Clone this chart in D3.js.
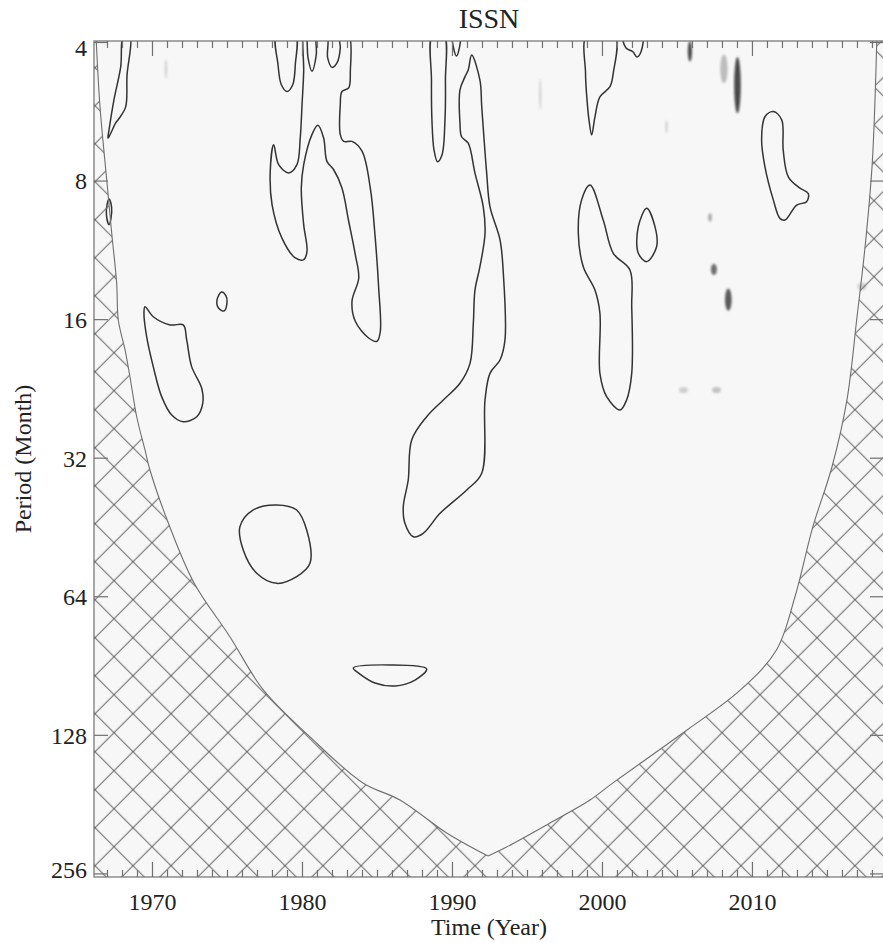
<!DOCTYPE html>
<html>
<head>
<meta charset="utf-8">
<script src="https://cdn.jsdelivr.net/npm/d3@7"></script>
<style>
    body { margin: 0; background: #fff; }
    text { font-family: "Liberation Serif", "Times New Roman", serif; fill: #222; }
</style>
</head>
<body>
<svg id="chart" width="883" height="943"></svg>
<script>
// axis ranges and labels
const title = 'ISSN';
const xLabel = 'Time (Year)';
const yLabel = 'Period (Month)';
const xDomain = [1966.1, 2018.77];
const yDomain = [3.97, 260];
const xTicks = [1970, 1980, 1990, 2000, 2010];
const yTicks = [4, 8, 16, 32, 64, 128, 256];

// cone of influence, [year, period]
const coiLeft = [
    [1966.23, 3.85], [1966.5, 5.52], [1966.95, 7.96], [1967.28, 10.37], [1967.61, 13.32],
    [1967.72, 16.03], [1968.17, 18.62], [1968.5, 21.32], [1968.95, 26.04], [1969.5, 30.71],
    [1969.83, 33.94], [1971.03, 44.03], [1972.77, 59.73], [1975.17, 78.26], [1977.39, 102.0],
    [1980.5, 129.0], [1984.03, 162.4], [1986.5, 176.9], [1989.61, 208.6], [1992.37, 234.1]
];
const coiRight = [
    [1993.61, 223.8], [1996.5, 198.5], [1999.17, 176.9], [2000.7, 162.4], [2005.17, 127.8],
    [2009.2, 102.0], [2011.6, 83.5], [2012.83, 64.07], [2014.03, 45.07], [2015.3, 33.44],
    [2016.3, 23.91], [2016.97, 15.79], [2017.5, 11.18], [2017.97, 7.46], [2018.17, 5.33],
    [2018.3, 3.85]
];

// 5% significance contours, [year, period]
const sig1967a = [
    [1968.07, 3.85], [1968.5, 3.85], [1968.3, 4.72], [1968.21, 5.52], [1967.77, 5.85],
    [1967.55, 5.98], [1967.1, 6.41], [1967.03, 6.45], [1967.1, 6.2], [1967.43, 5.33], [1967.88, 4.52]
];
const sig1967b = [
    [1967.1, 8.75], [1967.27, 9.1], [1967.23, 9.65], [1967.1, 9.95], [1966.93, 9.5], [1966.97, 9.0]
];
const sig1978 = [
    [1978.28, 3.85], [1978.37, 4.47], [1978.59, 4.94], [1978.97, 5.11], [1979.35, 4.94],
    [1979.52, 4.47], [1979.52, 3.85]
];
const sig1981 = [
    [1980.08, 3.85], [1980.08, 4.62], [1979.97, 5.46], [1979.85, 6.45], [1979.63, 7.37],
    [1979.08, 7.68], [1978.41, 7.37], [1978.08, 6.67], [1977.85, 7.62], [1977.97, 9.0],
    [1978.63, 10.64], [1979.52, 11.75], [1980.08, 11.85], [1980.3, 11.37], [1980.08, 9.95],
    [1979.92, 8.28], [1980.08, 7.37], [1980.63, 6.34], [1981.03, 6.05], [1981.41, 6.45],
    [1981.63, 7.25], [1982.08, 7.56], [1982.63, 8.28], [1983.08, 9.78], [1983.52, 11.56],
    [1983.75, 12.99], [1983.3, 14.6], [1983.52, 16.13], [1984.41, 17.54], [1984.97, 17.83],
    [1985.19, 16.96], [1985.08, 13.66], [1984.85, 10.64], [1984.52, 8.28], [1983.97, 6.89],
    [1983.3, 6.56], [1982.75, 6.56], [1982.52, 6.34], [1982.52, 5.46], [1982.63, 5.11],
    [1983.08, 5.02], [1983.19, 4.62], [1983.08, 3.85], [1982.47, 3.85], [1982.52, 4.11],
    [1982.3, 4.43], [1981.97, 4.53], [1981.68, 4.32], [1981.63, 3.85], [1980.97, 3.85],
    [1980.92, 4.25], [1980.63, 4.62], [1980.37, 4.32], [1980.23, 3.85]
];
const sig1971 = [
    [1969.5, 15.0], [1970.05, 15.77], [1971.17, 16.43], [1972.05, 16.43], [1972.28, 17.71],
    [1972.61, 20.24], [1973.28, 22.55], [1973.35, 24.32], [1972.95, 26.0], [1972.05, 26.66],
    [1971.28, 25.78], [1970.61, 23.52], [1970.05, 20.24], [1969.61, 17.42], [1969.43, 15.5]
];
const sig1975 = [
    [1974.6, 13.93], [1974.9, 14.2], [1974.97, 14.65], [1974.77, 15.32], [1974.4, 15.1], [1974.3, 14.5]
];
const sig1978b = [
    [1978.28, 40.44], [1979.61, 41.46], [1980.28, 45.83], [1980.5, 54.14], [1979.61, 57.88],
    [1978.28, 59.84], [1976.95, 56.9], [1976.05, 50.64], [1975.83, 45.07], [1976.72, 41.46]
];
const sig1986 = [
    [1983.39, 91.4], [1985.83, 90.0], [1988.28, 91.8], [1987.5, 97.1], [1986.17, 100.0],
    [1984.83, 98.5], [1983.83, 94.2]
];
const sig1989 = [
    [1988.67, 3.85], [1988.6, 4.83], [1988.63, 5.89], [1988.77, 6.85], [1989.0, 7.26],
    [1989.3, 7.02], [1989.5, 5.89], [1989.53, 4.83], [1989.43, 3.85]
];
const sig1990 = [
    [1990.03, 3.85], [1990.1, 4.15], [1990.27, 4.28], [1990.43, 4.15], [1990.5, 3.85]
];
const sig1992 = [
    [1991.28, 4.26], [1991.83, 4.83], [1991.95, 5.51], [1992.28, 7.69], [1992.5, 9.09],
    [1993.17, 10.74], [1993.39, 12.69], [1993.5, 17.71], [1993.17, 19.58], [1992.5, 20.93],
    [1992.17, 23.91], [1991.95, 34.51], [1990.95, 37.51], [1989.17, 42.16], [1988.05, 46.6],
    [1987.39, 47.39], [1986.83, 44.3], [1986.72, 40.78], [1987.05, 35.69], [1987.28, 29.21],
    [1988.28, 26.0], [1989.39, 23.91], [1990.5, 22.0], [1991.17, 19.91], [1991.39, 16.3],
    [1991.5, 13.8], [1991.83, 12.28], [1992.17, 10.39], [1992.05, 9.09], [1991.5, 7.69],
    [1991.05, 6.62], [1990.61, 6.41], [1990.5, 5.99], [1990.5, 5.07], [1990.83, 4.75],
    [1991.05, 4.59]
];
const sig2000 = [
    [1998.97, 3.85], [1998.87, 4.66], [1998.97, 5.33], [1999.1, 5.89], [1999.28, 6.35],
    [1999.5, 5.8], [1999.83, 5.25], [2000.5, 4.99], [2000.72, 4.66], [2000.83, 3.85]
];
const sig2002 = [
    [2001.37, 3.85], [2001.57, 4.11], [2002.03, 4.19], [2002.3, 4.3], [2002.57, 4.19], [2002.63, 3.85]
];
const sig2000b = [
    [1999.17, 8.16], [2000.05, 9.72], [2000.72, 11.48], [2001.83, 12.48], [2001.95, 15.0],
    [2001.95, 20.93], [2001.61, 23.91], [2001.17, 25.14], [2000.28, 23.52], [1999.83, 20.93],
    [1999.83, 15.5], [1999.5, 13.8], [1998.72, 12.28], [1998.39, 10.39], [1998.61, 8.79]
];
const sig2003 = [
    [2002.95, 9.17], [2003.5, 10.05], [2003.61, 11.11], [2002.95, 11.97], [2002.39, 11.48], [2002.39, 10.05]
];
const sig2012 = [
    [2011.39, 5.65], [2011.95, 5.89], [2012.05, 6.85], [2012.39, 7.83], [2013.17, 8.29],
    [2013.72, 8.51], [2013.61, 8.87], [2012.95, 9.02], [2012.17, 9.72], [2011.83, 9.64],
    [2011.39, 8.79], [2010.83, 7.44], [2010.61, 6.51], [2010.83, 5.8]
];
const contours = [
    sig1967a, sig1967b, sig1978, sig1981, sig1971, sig1975, sig1978b, sig1986,
    sig1989, sig1990, sig1992, sig2000, sig2002, sig2000b, sig2003, sig2012
];

// faint wavelet power patches: [year, periodTop, periodBottom, halfWidth(yr), colour]
const spots = [
    [2009.0, 4.3, 5.7, 0.22, '#4a4a4a'],
    [2008.1, 4.25, 4.9, 0.25, '#bdbdbd'],
    [2005.83, 3.97, 4.4, 0.14, '#4a4a4a'],
    [2007.43, 12.1, 12.8, 0.2, '#707070'],
    [2008.39, 13.7, 15.3, 0.22, '#5a5a5a'],
    [2007.17, 9.4, 9.8, 0.12, '#aaa'],
    [1970.9, 4.35, 4.8, 0.06, '#c4c4c4'],
    [2005.4, 22.4, 23.1, 0.3, '#cfcfcf'],
    [2007.6, 22.4, 23.1, 0.3, '#c4c4c4'],
    [2004.27, 5.9, 6.3, 0.08, '#cfcfcf'],
    [1995.85, 4.8, 5.6, 0.07, '#cfcfcf'],
    [2017.3, 13.3, 13.8, 0.3, '#cfcfcf'],
    [2019.9, 13.3, 13.8, 0.2, '#cfcfcf']
];

const svg = d3.select('#chart');
const box = { left: 94, right: 884, top: 41, bottom: 877 };

const x = d3.scaleLinear().domain(xDomain).range([box.left, box.right]);
const y = d3.scaleLog().base(2).domain(yDomain).range([box.top, box.bottom]);

const defs = svg.append('defs');
defs.append('clipPath').attr('id', 'plotClip')
    .append('rect')
    .attr('x', box.left).attr('y', box.top)
    .attr('width', box.right - box.left).attr('height', box.bottom - box.top);

const hatch = defs.append('pattern')
    .attr('id', 'hatch')
    .attr('patternUnits', 'userSpaceOnUse')
    .attr('x', 0).attr('y', 10.7)
    .attr('width', 38).attr('height', 38);
hatch.append('path')
    .attr('d', 'M-2,-2L40,40M-2,40L40,-2')
    .attr('stroke', '#6e6e6e')
    .attr('stroke-width', 1.1)
    .attr('fill', 'none');

defs.append('filter').attr('id', 'soft')
    .append('feGaussianBlur').attr('stdDeviation', 1.2);

// plot background
svg.append('rect')
    .attr('x', box.left).attr('y', box.top)
    .attr('width', box.right - box.left).attr('height', box.bottom - box.top)
    .attr('fill', '#f7f7f7');

const plot = svg.append('g').attr('clip-path', 'url(#plotClip)');

plot.append('g')
    .attr('filter', 'url(#soft)')
    .selectAll('ellipse')
    .data(spots)
    .enter()
    .append('ellipse')
    .attr('cx', d => x(d[0]))
    .attr('cy', d => (y(d[1]) + y(d[2])) / 2)
    .attr('rx', d => x(d[0] + d[3]) - x(d[0]))
    .attr('ry', d => (y(d[2]) - y(d[1])) / 2)
    .attr('fill', d => d[4]);

const contourLine = d3.line()
    .x(d => x(d[0]))
    .y(d => y(d[1]))
    .curve(d3.curveCatmullRomClosed.alpha(0.5));

plot.selectAll('.sig')
    .data(contours)
    .enter()
    .append('path')
    .attr('class', 'sig')
    .attr('d', contourLine)
    .attr('fill', 'none')
    .attr('stroke', '#333')
    .attr('stroke-width', 1.5);

// hatched area outside the cone of influence
const coiCurve = d3.line()
    .x(d => x(d[0]))
    .y(d => y(d[1]))
    .curve(d3.curveCatmullRom.alpha(0.5));
const vertex = coiLeft[coiLeft.length - 1];
const leftPath = coiCurve(coiLeft);
const rightPath = coiCurve([vertex].concat(coiRight));
const corner = (yr, p) => x(yr) + ',' + y(p);

plot.append('path')
    .attr('d', 'M' + corner(xDomain[0] - 1, 3.85) + 'L' + leftPath.slice(1) +
        'L' + rightPath.slice(1) +
        'L' + corner(xDomain[1] + 1, 3.85) +
        'L' + corner(xDomain[1] + 1, 300) +
        'L' + corner(xDomain[0] - 1, 300) + 'Z')
    .attr('fill', 'url(#hatch)');

plot.selectAll('.coi')
    .data([leftPath, rightPath])
    .enter()
    .append('path')
    .attr('d', d => d)
    .attr('fill', 'none')
    .attr('stroke', '#6e6e6e')
    .attr('stroke-width', 1.1);

// frame and ticks
const axes = svg.append('g').attr('stroke', '#707070').attr('stroke-width', 1.2);
axes.append('rect')
    .attr('x', box.left).attr('y', box.top)
    .attr('width', box.right - box.left).attr('height', box.bottom - box.top)
    .attr('fill', 'none');

const years = d3.range(1967, 2019);
axes.selectAll('.xtb')
    .data(years)
    .enter()
    .append('line')
    .attr('x1', d => x(d)).attr('x2', d => x(d))
    .attr('y1', box.bottom)
    .attr('y2', d => box.bottom - (d % 10 === 0 ? 15 : 7));
axes.selectAll('.xtt')
    .data(years)
    .enter()
    .append('line')
    .attr('x1', d => x(d)).attr('x2', d => x(d))
    .attr('y1', box.top)
    .attr('y2', d => box.top + (d % 10 === 0 ? 15 : 7));
axes.selectAll('.ytl')
    .data(yTicks)
    .enter()
    .append('line')
    .attr('x1', box.left).attr('x2', box.left + 14)
    .attr('y1', d => y(d)).attr('y2', d => y(d));
axes.selectAll('.ytr')
    .data(yTicks)
    .enter()
    .append('line')
    .attr('x1', box.right).attr('x2', box.right - 14)
    .attr('y1', d => y(d)).attr('y2', d => y(d));

// labels
svg.selectAll('.xlab')
    .data(xTicks)
    .enter()
    .append('text')
    .attr('x', d => x(d))
    .attr('y', 910)
    .attr('text-anchor', 'middle')
    .attr('font-size', 24)
    .text(d => d);

svg.selectAll('.ylab')
    .data(yTicks)
    .enter()
    .append('text')
    .attr('x', 87)
    .attr('y', d => Math.min(Math.max(y(d), 48), 870))
    .attr('dy', '0.35em')
    .attr('text-anchor', 'end')
    .attr('font-size', 24)
    .text(d => d);

svg.append('text')
    .attr('x', (box.left + box.right) / 2)
    .attr('y', 28)
    .attr('text-anchor', 'middle')
    .attr('font-size', 28)
    .text(title);

svg.append('text')
    .attr('x', (box.left + box.right) / 2)
    .attr('y', 935)
    .attr('text-anchor', 'middle')
    .attr('font-size', 24)
    .text(xLabel);

svg.append('text')
    .attr('transform', 'translate(31,459) rotate(-90)')
    .attr('text-anchor', 'middle')
    .attr('font-size', 24)
    .text(yLabel);
</script>
</body>
</html>
